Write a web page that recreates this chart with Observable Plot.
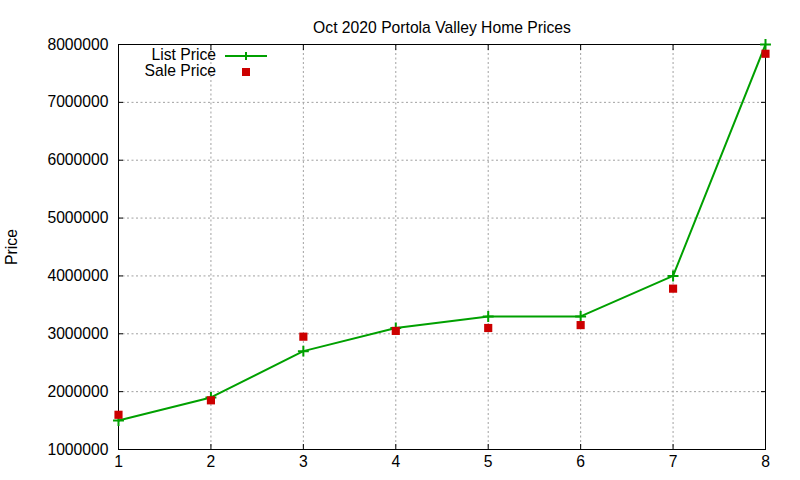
<!DOCTYPE html>
<html>
<head>
<meta charset="utf-8">
<script src="https://cdn.jsdelivr.net/npm/d3@7"></script>
<script src="https://cdn.jsdelivr.net/npm/@observablehq/plot@0.6"></script>
<style>
  html, body { margin: 0; padding: 0; background: #fff; }
  #chart { position: relative; width: 800px; height: 480px; }
</style>
</head>
<body>
<div id="chart"></div>
<script>
const title = "Oct 2020 Portola Valley Home Prices";
const yLabel = "Price";
const houses = [1, 2, 3, 4, 5, 6, 7, 8];
const listPrice = [1500000, 1900000, 2700000, 3100000, 3300000, 3300000, 4000000, 8000000];
const salePrice = [1600000, 1850000, 2950000, 3050000, 3100000, 3150000, 3780000, 7840000];
const xTicks = [1, 2, 3, 4, 5, 6, 7, 8];
const yTicks = [1000000, 2000000, 3000000, 4000000, 5000000, 6000000, 7000000, 8000000];
const seriesNames = ["List Price", "Sale Price"];

const green = "#00a000";
const red = "#cc0000";
const font = "Liberation Sans, Arial, sans-serif";

const listData = houses.map((h, i) => ({x: h, y: listPrice[i]}));
const saleData = houses.map((h, i) => ({x: h, y: salePrice[i]}));

const chart = Plot.plot({
  width: 800,
  height: 480,
  marginLeft: 118,
  marginRight: 35,
  marginTop: 44,
  marginBottom: 31,
  style: {fontFamily: font, fontSize: "15.7px", color: "#000", background: "#fff"},
  x: {domain: [1, 8], ticks: xTicks},
  y: {domain: [1000000, 8000000], ticks: yTicks},
  marks: [
    Plot.gridX(xTicks.slice(1, -1), {stroke: "#a0a0a0", strokeOpacity: 1, strokeDasharray: "2,2.5"}),
    Plot.gridY(yTicks.slice(1, -1), {stroke: "#a0a0a0", strokeOpacity: 1, strokeDasharray: "2,2.5"}),
    Plot.axisX(xTicks, {anchor: "bottom", tickSize: -5, tickPadding: 11, label: null, fontSize: 15.7}),
    Plot.axisX(xTicks, {anchor: "top", tickSize: -5, tickFormat: () => "", label: null}),
    Plot.axisY(yTicks, {anchor: "left", tickSize: -5, tickPadding: 15, tickFormat: d3.format("d"),
      label: yLabel, labelAnchor: "center", labelArrow: "none", labelOffset: 113, fontSize: 15.7}),
    Plot.axisY(yTicks, {anchor: "right", tickSize: -5, tickFormat: () => "", label: null}),
    Plot.frame({stroke: "#000", strokeWidth: 1}),
    Plot.line(listData, {x: "x", y: "y", stroke: green, strokeWidth: 2}),
    Plot.dot(listData, {x: "x", y: "y", symbol: "plus", stroke: green, strokeWidth: 2, r: 3.6}),
    Plot.dot(saleData, {x: "x", y: "y", symbol: "square", fill: red, stroke: "none", r: 4.6}),
    Plot.text([title], {frameAnchor: "top", dy: -23, text: d => d, fontSize: 15.7, fill: "#000"})
  ]
});

// legend inside the plot area (top-left)
const svg = d3.select(chart);
const lg = svg.append("g").attr("font-family", font).attr("font-size", "15.7px");
const lx = 118, ly = 44;
lg.append("text").attr("x", lx + 98).attr("y", ly + 11).attr("dy", "0.35em")
  .attr("text-anchor", "end").text(seriesNames[0]);
lg.append("line").attr("x1", lx + 107).attr("x2", lx + 149).attr("y1", ly + 12).attr("y2", ly + 12)
  .attr("stroke", green).attr("stroke-width", 2);
lg.append("path").attr("d", `M${lx + 128 - 4},${ly + 12}h8M${lx + 128},${ly + 12 - 4}v8`)
  .attr("stroke", green).attr("stroke-width", 2).attr("fill", "none");
lg.append("text").attr("x", lx + 98).attr("y", ly + 27).attr("dy", "0.35em")
  .attr("text-anchor", "end").text(seriesNames[1]);
lg.append("rect").attr("x", lx + 128 - 4).attr("y", ly + 28 - 4).attr("width", 8).attr("height", 8)
  .attr("fill", red);

document.getElementById("chart").appendChild(chart);
</script>
</body>
</html>
